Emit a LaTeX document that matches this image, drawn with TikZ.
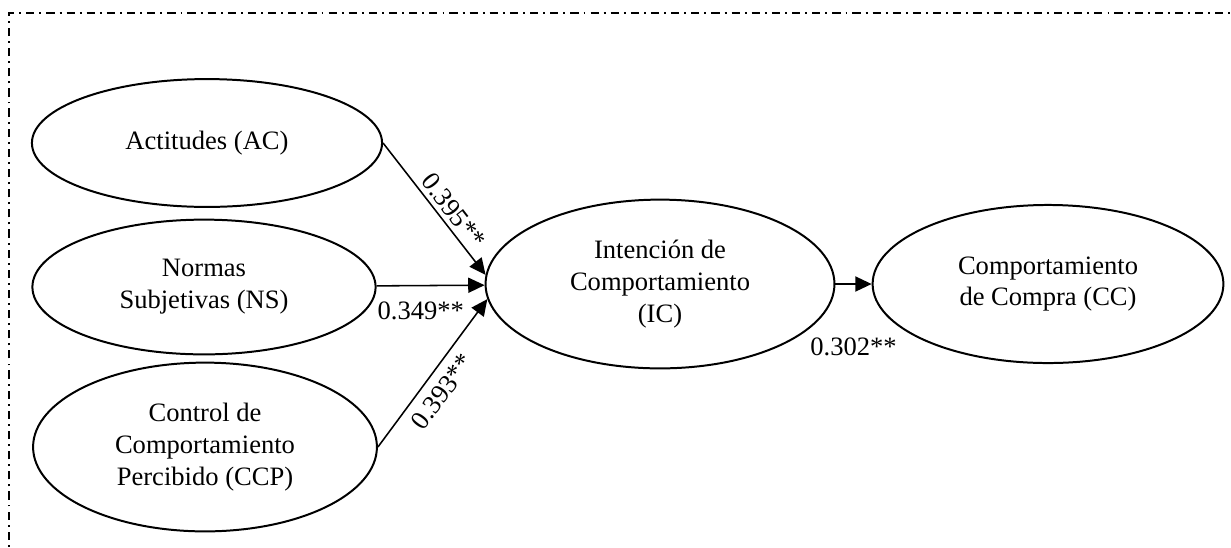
\documentclass[tikz,border=0pt]{standalone}
\usepackage{fontspec}
\setmainfont{Liberation Serif}
\usetikzlibrary{shapes.geometric,arrows.meta}

\begin{document}
\begin{tikzpicture}[
		x=0.1588mm, y=-0.1588mm,
		>={Triangle[length=2.6mm,width=2.4mm]},
		construct/.style={draw,ellipse,line width=0.9pt,inner sep=0pt,align=center,font=\fontsize{12}{14.4}\selectfont},
		link/.style={line width=0.7pt,->},
		coef/.style={font=\fontsize{12}{14.4}\selectfont,inner sep=2pt},
		frame/.style={line width=1.1pt,dash pattern=on 1.3mm off 0.8mm on 0.3mm off 0.8mm}
	]
		\useasboundingbox (0,0) rectangle (1231,547);

		% frame
		\draw[frame] (9,560) -- (9,13) -- (1240,13);

		% constructs
		\node[construct,minimum width=55.6mm,minimum height=20.3mm] (AC) at (207,143) {Actitudes (AC)};
		\node[construct,minimum width=54.5mm,minimum height=21.4mm] (NS) at (204,287) {Normas\\Subjetivas (NS)};
		\node[construct,minimum width=54.6mm,minimum height=26.8mm] (CCP) at (205,447) {Control de\\Comportamiento\\Percibido (CCP)};
		\node[construct,minimum width=55.4mm,minimum height=26.8mm] (IC) at (660,284) {Intención de\\Comportamiento\\(IC)};
		\node[construct,minimum width=55.7mm,minimum height=25.1mm] (CC) at (1048,284) {Comportamiento\\de Compra (CC)};

		% paths
		\draw[link] (AC.east) -- node[coef,sloped,above,pos=0.58] {0.395**} (IC.177);
		\draw[link] (NS) -- node[coef,below=5pt,pos=0.41] {0.349**} (IC);
		\draw[link] (CCP.east) -- node[coef,sloped,below,pos=0.45,inner sep=4pt] {0.393**} (IC.185);
		\draw[link] (IC) -- node[coef,below=22pt] {0.302**} (CC);
\end{tikzpicture}
\end{document}
